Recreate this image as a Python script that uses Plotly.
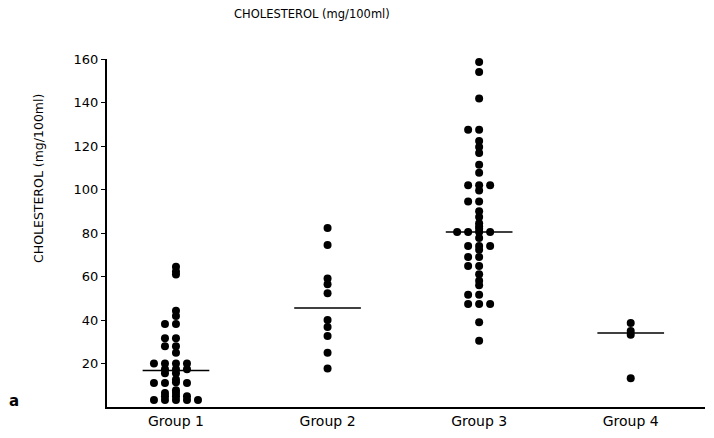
import plotly.graph_objects as go

# ---- data ----
groups = ["Group 1", "Group 2", "Group 3", "Group 4"]
group1 = [64.5, 62.3, 60.9, 44.3, 41.8, 38.2, 38.2, 31.6, 31.6, 27.9, 27.9, 25.0,
          20.0, 20.0, 20.0, 20.0, 17.3, 17.3, 17.3, 15.5, 15.5, 12.7, 11.4,
          11.0, 11.0, 11.0, 7.7, 6.4, 6.4, 5.0, 5.0, 5.0, 3.2, 3.2, 3.2, 3.2, 3.2]
group2 = [82.3, 74.5, 59.1, 56.4, 52.3, 40.0, 36.8, 32.7, 25.0, 17.7]
group3 = [158.6, 154.0, 141.8, 127.5, 127.5, 122.3, 119.5, 116.8, 111.4, 107.7,
          102.0, 102.0, 102.0, 99.5, 94.5, 94.5, 90.0, 87.3, 84.5, 83.0, 82.0,
          80.5, 80.5, 80.5, 80.5, 77.7, 74.0, 74.0, 74.0, 72.3, 69.0, 69.0,
          64.8, 64.8, 61.0, 58.0, 56.0, 51.6, 51.6, 47.3, 47.3, 47.3, 39.0, 30.5]
group4 = [38.6, 35.0, 33.2, 13.2]
medians = [16.8, 45.5, 80.5, 34.0]
y_ticks = [20, 40, 60, 80, 100, 120, 140, 160]

series = [group1, group2, group3, group4]

COL_DX = 0.0726   # horizontal spacing of stacked dots (x units)
THR = 1.0         # values closer than this in one column are pushed aside
HALF = 0.22       # half width of the median bars


def swarm(vals, center):
    order = [0, -1, 1, -2, 2, -3, 3, -4, 4]
    placed = []
    xs = []
    for v in vals:
        col = order[-1]
        for c in order:
            if all(abs(v - pv) >= THR for pc, pv in placed if pc == c):
                col = c
                break
        placed.append((col, v))
        xs.append(center + col * COL_DX)
    return xs


fig = go.Figure()
for i, vals in enumerate(series):
    center = i + 1
    fig.add_trace(go.Scatter(
        x=swarm(vals, center), y=vals, mode="markers", cliponaxis=False,
        marker=dict(size=8, color="black"), showlegend=False, hoverinfo="y"))
    fig.add_trace(go.Scatter(
        x=[center - HALF, center + HALF], y=[medians[i], medians[i]],
        mode="lines", line=dict(color="black", width=1.5),
        showlegend=False, hoverinfo="skip"))

font = "DejaVu Sans, Arial, sans-serif"

fig.update_layout(
    width=714, height=438,
    margin=dict(l=107, r=9, t=59, b=27),
    paper_bgcolor="white", plot_bgcolor="white",
    font=dict(family=font, color="black", size=13),
    xaxis=dict(range=[0.545, 4.49], tickvals=[1, 2, 3, 4], ticktext=groups,
               showline=True, linecolor="black", linewidth=2, ticks="",
               showgrid=False, zeroline=False, tickfont=dict(size=14)),
    yaxis=dict(range=[0, 160], tickvals=y_ticks, showline=True,
               linecolor="black", linewidth=2, ticks="outside", ticklen=4,
               tickwidth=1, tickcolor="black", showgrid=False, zeroline=False,
               tickfont=dict(size=13)),
    annotations=[
        dict(text="CHOLESTEROL (mg/100ml)", xref="paper", yref="paper",
             x=0.343, y=1.128, showarrow=False, xanchor="center",
             yanchor="middle", font=dict(size=11.5)),
        dict(text="CHOLESTEROL (mg/100ml)", xref="paper", yref="paper",
             x=-0.115, y=0.656, showarrow=False, textangle=-90,
             xanchor="center", yanchor="middle", font=dict(size=12.5)),
        dict(text="<b>a</b>", xref="paper", yref="paper", x=-0.1555, y=0.017,
             showarrow=False, xanchor="center", yanchor="middle",
             font=dict(size=15)),
    ],
)

fig.write_html("out.html")
